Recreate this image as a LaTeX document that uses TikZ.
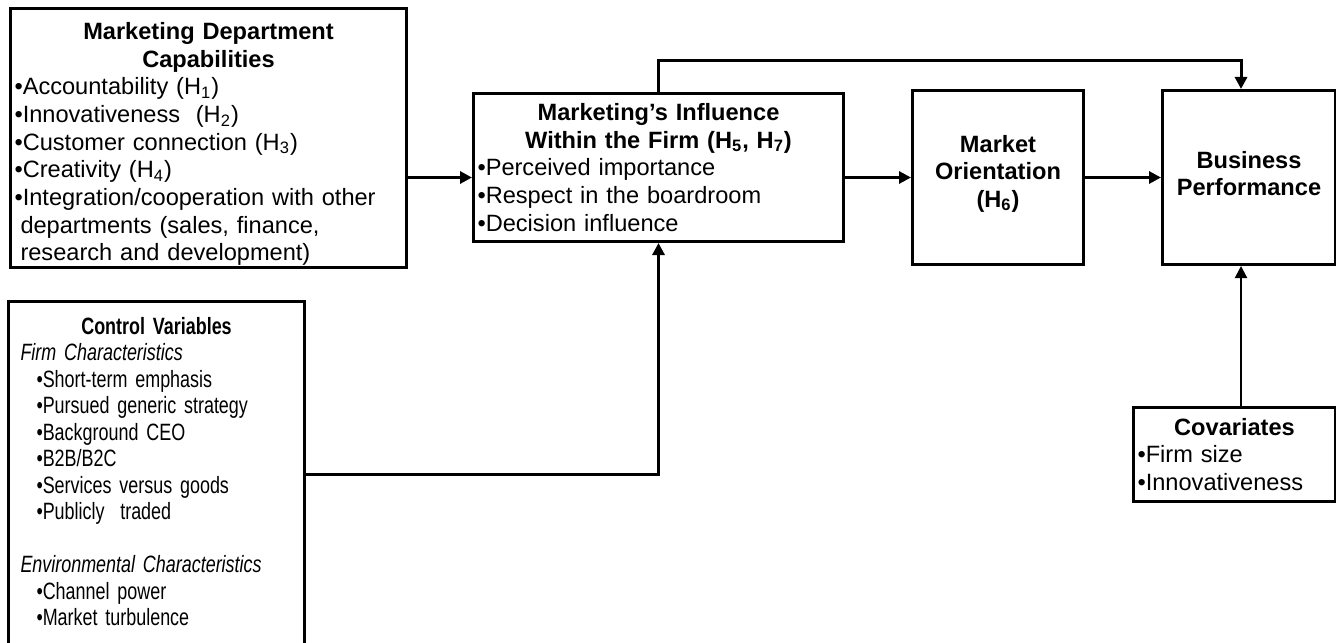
\documentclass[tikz,border=0pt]{standalone}
\usepackage{fontspec}
\setmainfont{Liberation Sans}
\newfontfamily\narrowfont[FakeStretch=0.76, WordSpace=0.7]{Liberation Sans}
\usetikzlibrary{arrows.meta}
\usetikzlibrary{calc}

\tikzset{
	box/.style={draw, line width=1.5pt, rectangle, anchor=north west, align=left, inner sep=2pt, font=\fontsize{11.8}{13.85}\selectfont},
	link/.style={line width=1.5pt, -{Triangle[length=6pt,width=6pt]}},
	thinlink/.style={line width=1pt, -{Triangle[length=6pt,width=6pt]}}
}

\begin{document}
\begin{tikzpicture}[x=0.5pt,y=-0.5pt]
		\useasboundingbox (0,0) rectangle (1336,642);
		
		\node[box, minimum width=198pt, minimum height=129.5pt, text width=194pt] (mdc) at (9,7) {%
			\makebox[\linewidth]{\bfseries Marketing Department}\\
			\makebox[\linewidth]{\bfseries Capabilities}\\
			\textbullet Accountability (H\textsubscript{1})\\
			\textbullet Innovativeness\ \ (H\textsubscript{2})\\
			\textbullet Customer connection (H\textsubscript{3})\\
			\textbullet Creativity (H\textsubscript{4})\\
			\textbullet Integration/cooperation with other\\
			\hspace*{3pt}departments (sales, finance,\\
			\hspace*{3pt}research and development)\vspace*{-6pt}};
		
		\node[box, minimum width=185pt, minimum height=74pt, text width=181pt] (mif) at (472,92) {%
			\makebox[\linewidth]{\bfseries Marketing’s Influence}\\
			\makebox[\linewidth]{\bfseries Within the Firm (H\textsubscript{5}, H\textsubscript{7})}\\
			\textbullet Perceived importance\\
			\textbullet Respect in the boardroom\\
			\textbullet Decision influence};
		
		\node[box, align=center, minimum width=85.5pt, minimum height=87pt, text width=80pt, font=\fontsize{11.8}{13.75}\selectfont\bfseries] (mo) at (911,89)
			{Market\\Orientation\\(H\textsubscript{6})\vspace*{4pt}};
		
		\node[box, align=center, minimum width=86.5pt, minimum height=87pt, text width=82pt, font=\fontsize{11.8}{13.75}\selectfont\bfseries] (bp) at (1161,89)
			{Business\\Performance\vspace*{4pt}};
		
		\node[box, minimum width=101pt, minimum height=47pt, text width=97pt] (cov) at (1132,406) {%
			\makebox[\linewidth]{\bfseries Covariates}\\
			\textbullet Firm size\\
			\textbullet Innovativeness};
		
		\node[box, minimum width=148pt, minimum height=173pt, text width=136pt, inner xsep=6pt,
			font=\fontsize{11.8}{13.25}\selectfont\narrowfont] (cv) at (7,300) {%
			\makebox[\linewidth]{\bfseries Control Variables}\\
			\textit{Firm Characteristics}\\
			\hspace*{8pt}\textbullet Short-term emphasis\\
			\hspace*{8pt}\textbullet Pursued generic strategy\\
			\hspace*{8pt}\textbullet Background CEO\\
			\hspace*{8pt}\textbullet B2B/B2C\\
			\hspace*{8pt}\textbullet Services versus goods\\
			\hspace*{8pt}\textbullet Publicly\ \ traded\\[13.25pt]
			\textit{Environmental Characteristics}\\
			\hspace*{8pt}\textbullet Channel power\\
			\hspace*{8pt}\textbullet Market turbulence\vspace*{3pt}};
		
		\coordinate (bpin) at ($(bp.north)+(-8,0)$);
		
		\draw[link] (mdc.east |- mo.west) -- (mif.west |- mo.west);
		\draw[link] (mif.east |- mo.west) -- (mo.west);
		\draw[link] (mo.east) -- (bp.west);
		\draw[link] (mif.north) -- ++(0,-31) -| (bpin);
		\draw[link] (cv.east) -| (mif.south);
		\draw[thinlink] (cov.north -| bpin) -- (bp.south -| bpin);
	\end{tikzpicture}
\end{document}
